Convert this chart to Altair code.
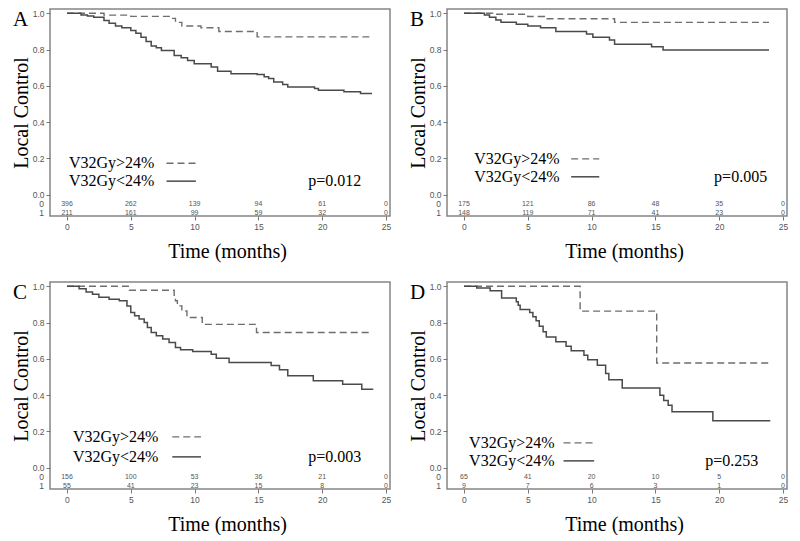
import altair as alt
import pandas as pd

# ---------------- data ----------------
TICKS_X = [0, 5, 10, 15, 20, 25]
TICKS_Y = [0.0, 0.2, 0.4, 0.6, 0.8, 1.0]
RISK_T = [0, 5, 10, 15, 20, 25]
GROUPS = ["V32Gy>24%", "V32Gy<24%"]

# Panel A
A_hi_t = [0, 2.9, 5.0, 8.2, 8.5, 9.0, 10.5, 11.9, 14.9, 23.9]
A_hi_s = [1.0, 0.99, 0.983, 0.972, 0.95, 0.93, 0.92, 0.90, 0.87, 0.87]
A_lo_t = [0, 1.1, 1.6, 2.1, 2.9, 3.3, 3.8, 4.3, 5.0, 5.4, 5.8, 6.2, 6.6, 7.0, 7.4, 8.4, 8.95, 9.45,
          9.97, 11.3, 11.8, 12.85, 14.9, 15.45, 15.8, 16.2, 16.9, 17.3, 19.4, 19.7, 21.7, 23.0, 23.9]
A_lo_s = [1.0, 0.99, 0.985, 0.978, 0.96, 0.945, 0.93, 0.92, 0.905, 0.89, 0.868, 0.845, 0.82, 0.81, 0.795,
          0.768, 0.755, 0.74, 0.722, 0.704, 0.68, 0.667, 0.662, 0.65, 0.64, 0.622, 0.608, 0.594, 0.585,
          0.576, 0.567, 0.558, 0.558]
A_risk_0 = [396, 262, 139, 94, 61, 0]
A_risk_1 = [211, 161, 99, 59, 32, 0]
A_p = "p=0.012"

# Panel B
B_hi_t = [0, 2.25, 5.0, 6.3, 11.8, 23.9]
B_hi_s = [1.0, 0.995, 0.982, 0.97, 0.95, 0.95]
B_lo_t = [0, 1.6, 2.0, 2.5, 2.9, 4.1, 5.0, 6.0, 7.2, 9.6, 10.1, 11.4, 11.8, 14.7, 15.6, 23.9]
B_lo_s = [1.0, 0.99, 0.978, 0.963, 0.95, 0.94, 0.93, 0.92, 0.90, 0.886, 0.868, 0.853, 0.83, 0.815,
          0.797, 0.797]
B_risk_0 = [175, 121, 86, 48, 35, 0]
B_risk_1 = [148, 119, 71, 41, 23, 0]
B_p = "p=0.005"

# Panel C
C_hi_t = [0, 4.9, 8.4, 8.5, 8.65, 9.0, 9.4, 10.6, 14.85, 23.9]
C_hi_s = [1.0, 0.978, 0.95, 0.92, 0.892, 0.864, 0.828, 0.79, 0.745, 0.745]
C_lo_t = [0, 0.95, 1.5, 2.0, 2.5, 3.3, 4.1, 4.7, 5.0, 5.3, 5.65, 6.05, 6.3, 6.6, 7.0, 7.5, 8.0, 8.5,
          8.9, 9.85, 11.3, 11.7, 12.7, 16.0, 16.65, 17.3, 19.3, 21.6, 23.1, 24.0]
C_lo_s = [1.0, 0.987, 0.969, 0.956, 0.94, 0.929, 0.92, 0.892, 0.855, 0.837, 0.82, 0.80, 0.773, 0.745,
          0.727, 0.709, 0.69, 0.663, 0.65, 0.64, 0.626, 0.603, 0.58, 0.564, 0.54, 0.507, 0.48, 0.46,
          0.432, 0.432]
C_risk_0 = [156, 100, 53, 36, 21, 0]
C_risk_1 = [55, 41, 23, 15, 8, 0]
C_p = "p=0.003"

# Panel D
D_hi_t = [0, 9.1, 15.1, 24.0]
D_hi_s = [1.0, 0.863, 0.577, 0.577]
D_lo_t = [0, 1.0, 2.05, 2.95, 4.1, 4.25, 4.4, 5.15, 5.4, 5.65, 5.9, 6.2, 6.45, 7.2, 8.0, 8.4, 9.4,
          9.7, 10.45, 11.1, 11.35, 12.4, 15.35, 15.65, 16.0, 16.3, 19.5, 24.0]
D_lo_s = [1.0, 0.99, 0.975, 0.935, 0.915, 0.895, 0.872, 0.855, 0.832, 0.81, 0.78, 0.75, 0.72, 0.695,
          0.67, 0.645, 0.62, 0.595, 0.565, 0.52, 0.485, 0.44, 0.40, 0.37, 0.345, 0.308, 0.259, 0.259]
D_risk_0 = [65, 41, 20, 10, 5, 0]
D_risk_1 = [9, 7, 6, 3, 1, 0]
D_p = "p=0.253"

# legend placement per panel (months / survival units)
LEG = {
    "A": dict(tx=0.15, y1=0.174, y2=0.075, l1=7.8, l2=10.1, px=18.9, py=0.075),
    "B": dict(tx=0.8, y1=0.198, y2=0.099, l1=8.4, l2=10.6, px=19.6, py=0.10),
    "C": dict(tx=0.47, y1=0.17, y2=0.06, l1=8.25, l2=10.5, px=18.9, py=0.06),
    "D": dict(tx=0.4, y1=0.137, y2=0.038, l1=7.8, l2=10.2, px=18.9, py=0.04),
}

W, H = 340, 207
XDOM = [-1.33, 25.31]
YDOM = [-0.117, 1.0236]
SERIF = "Liberation Serif"
SANS = "Liberation Sans"
SOLID_COL = "#4a4a4a"
DASH_COL = "#6e6e6e"


def panel(letter, hi_t, hi_s, lo_t, lo_s, r0, r1, ptxt):
    leg = LEG[letter]
    x_enc = alt.X("t:Q", scale=alt.Scale(domain=XDOM, nice=False, zero=False),
                  axis=alt.Axis(values=TICKS_X, title="Time (months)", titleX=177, titleY=35,
                                titleBaseline="middle", titleAlign="center"))
    y_enc = alt.Y("s:Q", scale=alt.Scale(domain=YDOM, nice=False, zero=False),
                  axis=alt.Axis(values=TICKS_Y, format=".1f", title="Local Control", titleX=-29,
                                titleY=H / 2, titleAngle=270, titleAlign="center",
                                titleBaseline="middle"))

    hi = pd.DataFrame({"t": hi_t, "s": hi_s})
    lo = pd.DataFrame({"t": lo_t, "s": lo_s})

    hi_line = alt.Chart(hi).mark_line(interpolate="step-after", color=DASH_COL, strokeWidth=1.4,
                                      strokeDash=[7, 4]).encode(x=x_enc, y=y_enc)
    lo_line = alt.Chart(lo).mark_line(interpolate="step-after", color=SOLID_COL,
                                      strokeWidth=1.5).encode(x=x_enc, y=y_enc)

    leg_txt = pd.DataFrame({"t": [leg["tx"], leg["tx"]], "s": [leg["y1"], leg["y2"]], "lab": GROUPS})
    leg_text = alt.Chart(leg_txt).mark_text(align="left", baseline="middle", font=SERIF,
                                            fontSize=16, color="black").encode(
        x=x_enc, y=y_enc, text="lab:N")

    leg_hi = pd.DataFrame({"t": [leg["l1"]], "t2": [leg["l2"]], "s": [leg["y1"]]})
    leg_lo = pd.DataFrame({"t": [leg["l1"]], "t2": [leg["l2"]], "s": [leg["y2"]]})
    rule_hi = alt.Chart(leg_hi).mark_rule(color=DASH_COL, strokeWidth=1.4, strokeDash=[7, 4]).encode(
        x=x_enc, x2="t2:Q", y=y_enc)
    rule_lo = alt.Chart(leg_lo).mark_rule(color=SOLID_COL, strokeWidth=1.5).encode(
        x=x_enc, x2="t2:Q", y=y_enc)

    pdf = pd.DataFrame({"t": [leg["px"]], "s": [leg["py"]], "lab": [ptxt]})
    p_text = alt.Chart(pdf).mark_text(align="left", baseline="middle", font=SERIF, fontSize=16,
                                      color="black").encode(x=x_enc, y=y_enc, text="lab:N")

    risk = pd.DataFrame({
        "t": RISK_T + RISK_T,
        "s": [-0.052] * len(RISK_T) + [-0.100] * len(RISK_T),
        "n": [str(v) for v in r0] + [str(v) for v in r1],
    })
    risk_text = alt.Chart(risk).mark_text(align="center", baseline="middle", font=SANS, fontSize=7,
                                          color="#555555").encode(x=x_enc, y=y_enc, text="n:N")
    rowlab = pd.DataFrame({"s": [-0.052, -0.100], "lab": ["0", "1"]})
    row_text = alt.Chart(rowlab).mark_text(align="center", baseline="middle", font=SANS, fontSize=8.5,
                                           color="#555555").encode(x=alt.value(-8.5), y=y_enc,
                                                                   text="lab:N")

    let = alt.Chart(pd.DataFrame({"lab": [letter]})).mark_text(
        align="left", baseline="middle", font=SERIF, fontSize=21, color="black").encode(
        x=alt.value(-37), y=alt.value(11), text="lab:N")

    return alt.layer(hi_line, lo_line, rule_hi, rule_lo, leg_text, p_text, risk_text, row_text,
                     let).properties(width=W, height=H)


pA = panel("A", A_hi_t, A_hi_s, A_lo_t, A_lo_s, A_risk_0, A_risk_1, A_p)
pB = panel("B", B_hi_t, B_hi_s, B_lo_t, B_lo_s, B_risk_0, B_risk_1, B_p)
pC = panel("C", C_hi_t, C_hi_s, C_lo_t, C_lo_s, C_risk_0, C_risk_1, C_p)
pD = panel("D", D_hi_t, D_hi_s, D_lo_t, D_lo_s, D_risk_0, D_risk_1, D_p)

chart = alt.concat(pA, pB, pC, pD, columns=2, spacing={"row": 66, "column": 57},
                   bounds="flush").properties(
    padding={"left": 2, "top": 0, "right": 0, "bottom": 0},
    background="white",
).configure_view(
    stroke="#858585", strokeWidth=1.5
).configure_axis(
    domain=False, grid=False, tickColor="#777777", tickSize=4, tickWidth=1,
    labelColor="#555555", labelFont=SANS, labelFontSize=8.5, labelPadding=2,
    titleFont=SERIF, titleFontSize=20, titleFontWeight="normal", titleColor="black",
)

chart.save("out.html", embed_options={"renderer": "svg", "actions": False})
